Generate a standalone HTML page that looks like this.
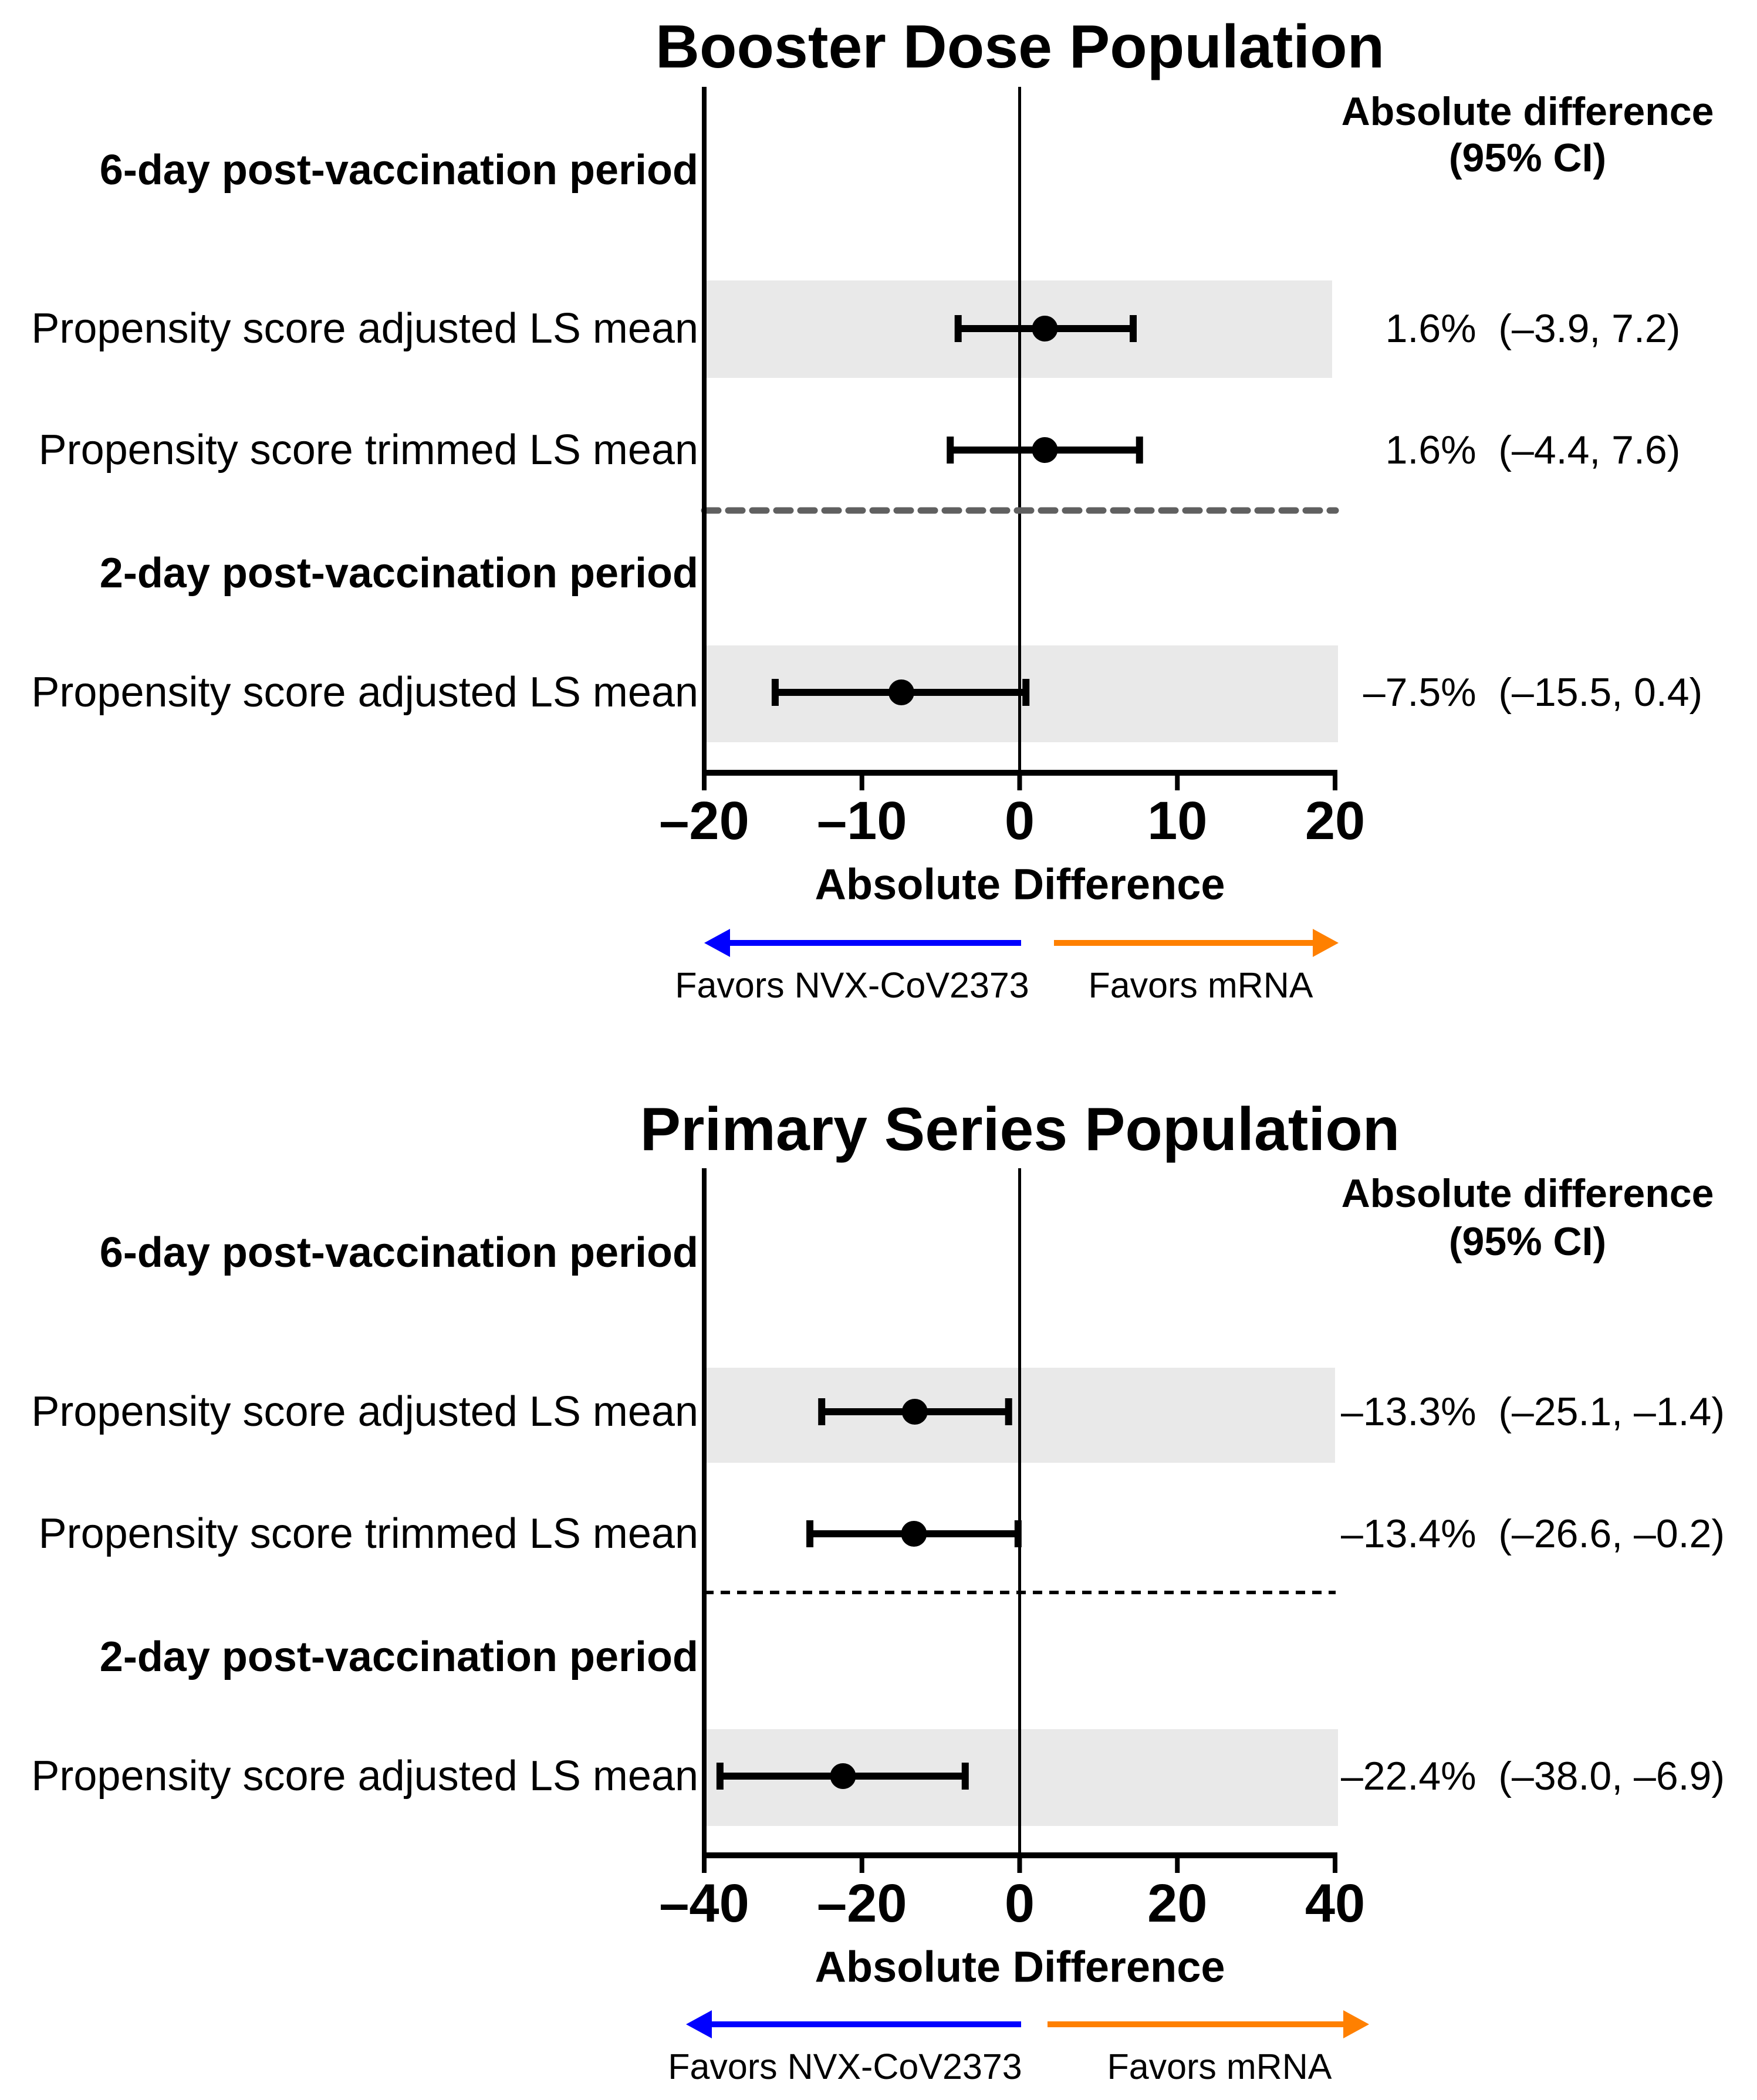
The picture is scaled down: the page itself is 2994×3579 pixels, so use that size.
<!DOCTYPE html>
<html><head><meta charset="utf-8"><style>
html,body{margin:0;padding:0;background:#fff}
svg{display:block}
text{font-family:"Liberation Sans",Arial,sans-serif;fill:#000;white-space:pre}
</style></head><body>
<svg id="svg" width="2994" height="3579" viewBox="0 0 2994 3579" xmlns="http://www.w3.org/2000/svg"></svg>
<script>
// ---- data ----
const panelTitles = ["Booster Dose Population", "Primary Series Population"];
const rowLabels = ["Propensity score adjusted LS mean", "Propensity score trimmed LS mean", "Propensity score adjusted LS mean"];
const headerLabels = ["6-day post-vaccination period", "2-day post-vaccination period"];
const boosterEst = [1.6, 1.6, -7.5];
const boosterLo = [-3.9, -4.4, -15.5];
const boosterHi = [7.2, 7.6, 0.4];
const primaryEst = [-13.3, -13.4, -22.4];
const primaryLo = [-25.1, -26.6, -38.0];
const primaryHi = [-1.4, -0.2, -6.9];
const boosterTicks = [-20, -10, 0, 10, 20];
const primaryTicks = [-40, -20, 0, 20, 40];
const boosterText = ["1.6%  (\u20133.9, 7.2)", "1.6%  (\u20134.4, 7.6)", "\u20137.5%  (\u201315.5, 0.4)"];
const primaryText = ["\u201313.3%  (\u201325.1, \u20131.4)", "\u201313.4%  (\u201326.6, \u20130.2)", "\u201322.4%  (\u201338.0, \u20136.9)"];

const NS = "http://www.w3.org/2000/svg";
const svg = document.getElementById('svg');
function mk(tag, attrs, parent, txt) {
  const e = document.createElementNS(NS, tag);
  for (const k in attrs) e.setAttribute(k, attrs[k]);
  if (txt !== undefined) e.textContent = txt;
  (parent || svg).appendChild(e);
  return e;
}
function fmt(t){ return t < 0 ? "\u2013" + Math.abs(t) : String(t); }

function panel(cfg) {
  const g = mk('g', {});
  
  
  const x0 = 1200, x1 = 2275;
  const xs = v => x0 + (v - cfg.min) / (cfg.max - cfg.min) * (x1 - x0);
  const oy = cfg.oy;
  cfg.bands.forEach((b, i) => {
    const r = mk('rect', {x: x0, y: b[0] + oy, width: b[2] - x0, height: b[1] - b[0], fill: '#e9e9e9'}, g);
    
    
  });
  const t = mk('text', {x: 1738, y: 80 + oy + cfg.tdy, 'text-anchor': 'middle', 'dominant-baseline': 'central', 'font-size': 104, 'font-weight': 'bold'}, g, cfg.title);
  
  
  const z = mk('line', {x1: xs(0), x2: xs(0), y1: 148 + oy + cfg.ady, y2: 1317 + oy + cfg.bdy, stroke: '#000', 'stroke-width': 5}, g);
  
  
  const d = mk('line', {x1: x0, x2: 2276, y1: cfg.dashY, y2: cfg.dashY, stroke: cfg.dashColor, 'stroke-width': cfg.dashW, 'stroke-dasharray': cfg.dashArr, 'stroke-linecap': cfg.dashCap}, g);
  
  
  const axB = 1317 + oy + cfg.bdy;
  const ya = mk('line', {x1: x0, x2: x0, y1: 148 + oy + cfg.ady, y2: axB, stroke: '#000', 'stroke-width': 8}, g);
  
  
  const xa = mk('line', {x1: x0 - 4, x2: x1 + 4, y1: axB, y2: axB, stroke: '#000', 'stroke-width': 10}, g);
  
  
  cfg.ticks.forEach(tv => {
    const tk = mk('line', {x1: xs(tv), x2: xs(tv), y1: axB, y2: axB + 30, stroke: '#000', 'stroke-width': 8}, g);
    
    
    const tl = mk('text', {x: xs(tv), y: axB + 82, 'text-anchor': 'middle', 'dominant-baseline': 'central', 'font-size': 92, 'font-weight': 'bold'}, g, fmt(tv));
    
    
  });
  const at = mk('text', {x: 1738, y: axB + 190, 'text-anchor': 'middle', 'dominant-baseline': 'central', 'font-size': 74, 'font-weight': 'bold'}, g, 'Absolute Difference');
  
  
  const ay = axB + cfg.arrowDy;
  const bl = mk('line', {x1: 1740, x2: cfg.blueEnd + 40, y1: ay, y2: ay, stroke: '#0000ff', 'stroke-width': 10}, g);
  
  
  mk('polygon', {points: `${cfg.blueEnd},${ay} ${cfg.blueEnd + 44},${ay - 24} ${cfg.blueEnd + 44},${ay + 24}`, fill: '#0000ff'}, g);
  const ol = mk('line', {x1: cfg.orStart, x2: cfg.orEnd - 40, y1: ay, y2: ay, stroke: '#ff8000', 'stroke-width': 10}, g);
  
  
  mk('polygon', {points: `${cfg.orEnd},${ay} ${cfg.orEnd - 44},${ay - 24} ${cfg.orEnd - 44},${ay + 24}`, fill: '#ff8000'}, g);
  const fl1 = mk('text', {x: cfg.lab1, y: ay + 72, 'text-anchor': 'middle', 'dominant-baseline': 'central', 'font-size': 61}, g, 'Favors NVX-CoV2373');
  
  
  const fl2 = mk('text', {x: cfg.lab2, y: ay + 72, 'text-anchor': 'middle', 'dominant-baseline': 'central', 'font-size': 61}, g, 'Favors mRNA');
  
  
  cfg.headerY.forEach((hy, i) => {
    const h = mk('text', {x: 1190, y: hy, 'text-anchor': 'end', 'dominant-baseline': 'central', 'font-size': 72, 'font-weight': 'bold'}, g, headerLabels[i]);
    
    
  });
  const rh1 = mk('text', {x: 2603, y: cfg.rhY[0], 'text-anchor': 'middle', 'dominant-baseline': 'central', 'font-size': 68, 'font-weight': 'bold'}, g, 'Absolute difference');
  
  
  const rh2 = mk('text', {x: 2603, y: cfg.rhY[1], 'text-anchor': 'middle', 'dominant-baseline': 'central', 'font-size': 68, 'font-weight': 'bold'}, g, '(95% CI)');
  
  
  cfg.rowY.forEach((ry, i) => {
    const rl = mk('text', {x: 1190, y: ry, 'text-anchor': 'end', 'dominant-baseline': 'central', 'font-size': 72}, g, rowLabels[i]);
    
    
    const eb = mk('line', {x1: xs(cfg.lo[i]), x2: xs(cfg.hi[i]), y1: ry, y2: ry, stroke: '#000', 'stroke-width': 12}, g);
    
    
    [cfg.lo[i], cfg.hi[i]].forEach(v => {
      const c = mk('line', {x1: xs(v), x2: xs(v), y1: ry - 23, y2: ry + 23, stroke: '#000', 'stroke-width': 12}, g);
      
      
    });
    const pt = mk('circle', {cx: xs(cfg.est[i]), cy: ry, r: 22, fill: '#000'}, g);
    
    
    const vt = mk('text', {x: 2612, y: ry, 'text-anchor': 'middle', 'dominant-baseline': 'central', 'font-size': 68}, g, cfg.txt[i]);
    
    
  });
}

panel({name: 'booster-panel', title: panelTitles[0], oy: 0, tdy: 0, ady: 0, bdy: 0, min: -20, max: 20,
  ticks: boosterTicks, est: boosterEst, lo: boosterLo, hi: boosterHi, txt: boosterText,
  bands: [[478, 644, 2270], [1100, 1265, 2280]], rowY: [560, 767, 1180], headerY: [290, 977], rhY: [190, 269],
  dashY: 870, dashColor: '#606060', dashW: 11, dashArr: '24 17', dashCap: 'round',
  arrowDy: 290, blueEnd: 1200, orStart: 1796, orEnd: 2281, lab1: 1452, lab2: 2046});
panel({name: 'primary-panel', title: panelTitles[1], oy: 0, tdy: 1845, ady: 1843, bdy: 1845, min: -40, max: 40,
  ticks: primaryTicks, est: primaryEst, lo: primaryLo, hi: primaryHi, txt: primaryText,
  bands: [[2331, 2493, 2275], [2947, 3112, 2280]], rowY: [2406, 2614, 3027], headerY: [2135, 2824], rhY: [2034, 2116],
  dashY: 2714, dashColor: '#000', dashW: 6, dashArr: '16 12', dashCap: 'butt',
  arrowDy: 288, blueEnd: 1169, orStart: 1785, orEnd: 2333, lab1: 1440, lab2: 2078});
</script>
</body></html>
